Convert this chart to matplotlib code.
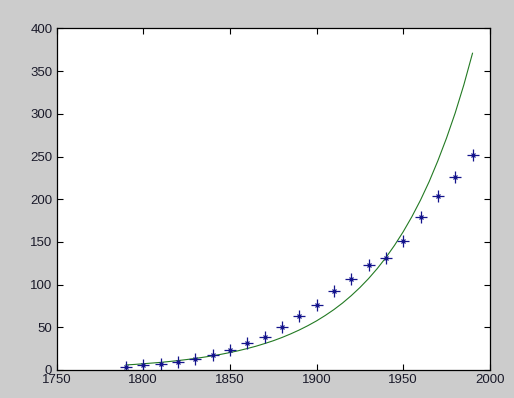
import matplotlib
matplotlib.use("Agg")
import matplotlib.pyplot as plt

years = [1790, 1800, 1810, 1820, 1830, 1840, 1850, 1860, 1870, 1880, 1890,
         1900, 1910, 1920, 1930, 1940, 1950, 1960, 1970, 1980, 1990]
population = [3.9, 5.3, 7.2, 9.6, 12.9, 17.1, 23.2, 31.4, 38.6, 50.2, 62.9,
              76.0, 92.0, 106.5, 123.2, 131.7, 150.7, 179.3, 204.0, 226.5, 251.4]
fit_years = [1790, 1795, 1800, 1805, 1810, 1815, 1820, 1825, 1830, 1835, 1840,
             1845, 1850, 1855, 1860, 1865, 1870, 1875, 1880, 1885, 1890, 1895,
             1900, 1905, 1910, 1915, 1920, 1925, 1930, 1935, 1940, 1945, 1950,
             1955, 1960, 1965, 1970, 1975, 1980, 1985, 1990]
fit_values = [5.9, 6.5, 7.3, 8.1, 8.9, 9.9, 11.0, 12.2, 13.5, 15.0, 16.6,
              18.4, 20.4, 22.6, 25.1, 27.8, 30.9, 34.2, 38.0, 42.2, 46.8, 51.9,
              57.5, 63.8, 70.7, 78.4, 87.0, 96.5, 107.0, 118.7, 131.6, 146.0, 161.9,
              179.5, 199.0, 220.7, 245.0, 271.6, 301.0, 334.0, 371.0]
xticks = [1750, 1800, 1850, 1900, 1950, 2000]
yticks = [0, 50, 100, 150, 200, 250, 300, 350, 400]

plt.rcParams['font.family'] = ['Liberation Sans', 'DejaVu Sans']
fig = plt.figure(figsize=(5.14, 3.98), dpi=100, facecolor='#cccccc')
ax = fig.add_axes([0.110, 0.0704, 0.843, 0.858])
ax.set_facecolor('white')

ax.plot(fit_years, fit_values, color='#237a23', linewidth=0.8)
ax.plot(years, population, linestyle='none', marker='+', markersize=8,
        markeredgewidth=0.9, color='#14148c')
ax.plot(years, population, linestyle='none', marker='x', markersize=3.5,
        markeredgewidth=0.9, color='#14148c')

ax.set_xlim(1750, 2000)
ax.set_ylim(0, 400)
ax.set_xticks(xticks)
ax.set_yticks(yticks)
ax.tick_params(direction='in', top=True, right=True, length=4, width=0.8,
               labelsize=9.5, labelcolor='#1a1a2a', pad=3)
for s in ax.spines.values():
    s.set_linewidth(0.9)

fig.savefig('out.png', dpi=100, facecolor=fig.get_facecolor())
